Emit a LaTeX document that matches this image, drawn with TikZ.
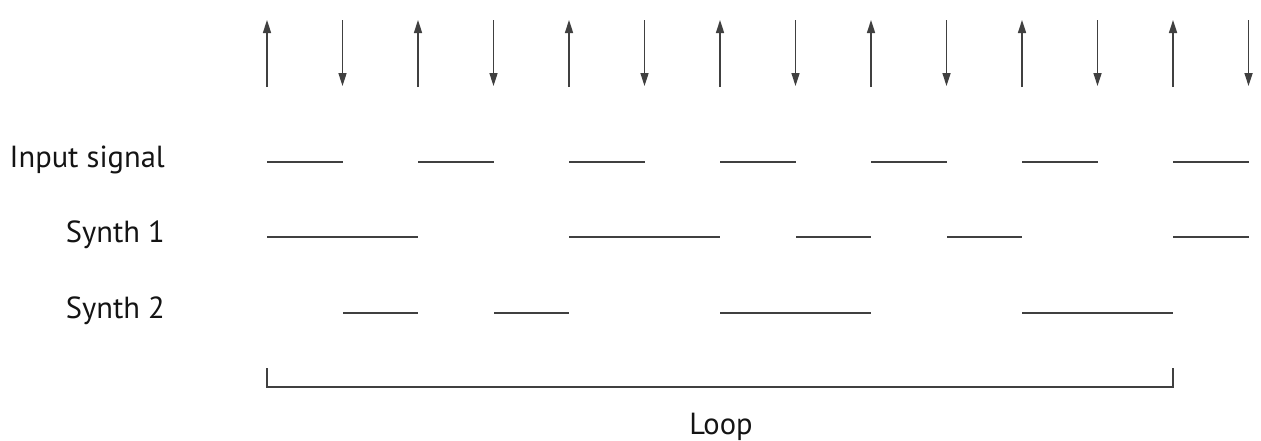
\documentclass[tikz,border=0pt]{standalone}
\usepackage{fontspec}
\setmainfont{PT Sans}
\usetikzlibrary{arrows.meta}
\begin{document}
\begin{tikzpicture}[x=1pt,y=-1pt,
  sig/.style={line width=1.8pt, draw=black!75},
  clk/.style={line width=1.6pt, draw=black!75, -{Triangle[length=13pt,width=8pt]}},
  lbl/.style={font=\fontsize{30.5}{33}\selectfont, text=black!92, inner sep=0pt, anchor=base east},
  brk/.style={line width=1.8pt, draw=black!75}]
\useasboundingbox (0,0) rectangle (1261,440);
% clock arrows
\foreach \i in {0,...,6}{
  \pgfmathsetmacro{\xu}{267+151*\i}
  \pgfmathsetmacro{\xd}{342.5+151*\i}
  \coordinate (ub\i) at (\xu,87);
  \coordinate (ut\i) at (\xu,20);
  \coordinate (dt\i) at (\xd,20);
  \coordinate (db\i) at (\xd,86);
  \draw[clk] (ub\i) -- (ut\i);
  \draw[clk] (dt\i) -- (db\i);
}
% labels
\node[lbl] (in) at (165,167) {Input signal};
\node[lbl] (s1) at (165,242) {Synth 1};
\node[lbl] (s2) at (165,318) {Synth 2};
% input signal
\foreach \a/\b [count=\k] in {267/343,418/494,569/645,720/796,871/947,1022/1098,1173/1249}{
  \coordinate (ia\k) at (\a,162);
  \coordinate (ib\k) at (\b,162);
  \draw[sig] (ia\k) -- (ib\k);
}
% synth 1
\foreach \a/\b [count=\k] in {267/418,569/720,796/871,947/1022,1173/1249}{
  \coordinate (pa\k) at (\a,237);
  \coordinate (pb\k) at (\b,237);
  \draw[sig] (pa\k) -- (pb\k);
}
% synth 2
\foreach \a/\b [count=\k] in {343/418,494/569,720/871,1022/1173}{
  \coordinate (qa\k) at (\a,313);
  \coordinate (qb\k) at (\b,313);
  \draw[sig] (qa\k) -- (qb\k);
}
% loop bracket
\coordinate (bl) at (267,368);
\coordinate (br) at (1173,368);
\draw[brk] (bl) -- (267,387) -- (1173,387) -- (br);
\node[lbl, anchor=base] (loop) at (721,434) {Loop};
\end{tikzpicture}
\end{document}
